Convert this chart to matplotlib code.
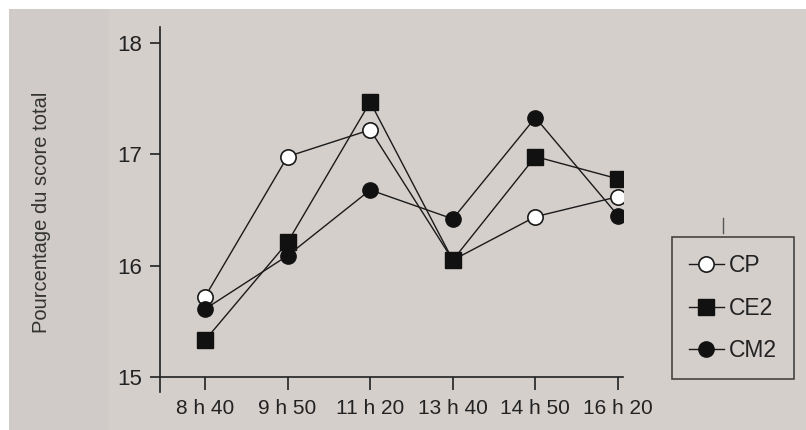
import matplotlib
matplotlib.use("Agg")
import matplotlib.pyplot as plt
from matplotlib.lines import Line2D
from matplotlib.patches import Rectangle

times = ["8 h 40", "9 h 50", "11 h 20", "13 h 40", "14 h 50", "16 h 20"]
cp = [15.72, 16.98, 17.22, 16.05, 16.44, 16.62]
ce2 = [15.33, 16.21, 17.47, 16.05, 16.98, 16.78]
cm2 = [15.61, 16.09, 16.68, 16.42, 17.33, 16.45]
yticks = [15, 16, 17, 18]

plt.rcParams['font.family'] = ['Liberation Sans', 'DejaVu Sans']

W, H = 806, 430
fig = plt.figure(figsize=(W / 100, H / 100), dpi=100)
bg = '#d5cfcc'
fig.patch.set_facecolor('white')
fig.patches.append(Rectangle((9 / W, 0), 1 - 9 / W, 1 - 9 / H, transform=fig.transFigure,
                             facecolor=bg, edgecolor='none', zorder=-10))
fig.patches.append(Rectangle((9 / W, 0), 100 / W, 1 - 9 / H, transform=fig.transFigure,
                             facecolor='#d0cbc8', edgecolor='none', zorder=-9))

left, right = 160 / W, 623 / W
bottom_px, top_px = 392, 27
ax = fig.add_axes([left, 1 - bottom_px / H, right - left, (bottom_px - top_px) / H])
ax.set_facecolor('none')

x = list(range(len(times)))
lw = 1.0
ax.plot(x, cp, '-', color='#1a1a1a', lw=lw, marker='o', ms=11, mfc='white', mec='#1a1a1a', mew=1.2, zorder=3)
ax.plot(x, ce2, '-', color='#1a1a1a', lw=lw, marker='s', ms=11, mfc='#111111', mec='#111111', zorder=3)
ax.plot(x, cm2, '-', color='#1a1a1a', lw=lw, marker='o', ms=11, mfc='#111111', mec='#111111', zorder=3)

ppu = (377 - 43) / 3.0
ymin = 15 - (bottom_px - 377) / ppu
ymax = 18 + (43 - top_px) / ppu
ax.set_ylim(ymin, ymax)
sp = 82.6
ax.set_xlim(-(205 - 160) / sp, (623 - 205) / sp)

for s in ['top', 'right']:
    ax.spines[s].set_visible(False)
ax.spines['bottom'].set_position(('data', 15))
for s in ['left', 'bottom']:
    ax.spines[s].set_linewidth(1.2)
    ax.spines[s].set_color('#222222')

ax.set_xticks(x)
ax.set_xticklabels(times)
ax.set_yticks(yticks)
ax.set_yticklabels([str(v) for v in yticks])
ax.tick_params(axis='x', direction='out', length=9.5, width=1.2, pad=6, labelsize=15, colors='#222222')
ax.tick_params(axis='y', direction='out', length=7, width=1.2, pad=6, labelsize=16, colors='#222222')

fig.text(42 / W, 1 - 212 / H, "Pourcentage du score total", rotation=90, ha='center', va='center',
         fontsize=14.5, color='#333333')

handles = [
    Line2D([], [], color='#1a1a1a', lw=lw, marker='o', ms=11, mfc='white', mec='#1a1a1a', mew=1.2),
    Line2D([], [], color='#1a1a1a', lw=lw, marker='s', ms=11, mfc='#111111', mec='#111111'),
    Line2D([], [], color='#1a1a1a', lw=lw, marker='o', ms=11, mfc='#111111', mec='#111111'),
]
leg = fig.legend(handles, ["CP", "CE2", "CM2"], loc='upper left',
                 bbox_to_anchor=(672 / W, 1 - 237 / H), fontsize=16.5, frameon=True,
                 fancybox=False, edgecolor='#222222', facecolor=bg, handlelength=1.5,
                 handletextpad=0.25, labelspacing=0.85, borderpad=0.75, borderaxespad=0)
leg.get_frame().set_linewidth(1.2)
for t in leg.get_texts():
    t.set_color('#222222')

fig.add_artist(Line2D([723 / W, 723 / W], [1 - 218 / H, 1 - 233 / H], transform=fig.transFigure,
                      color='#555555', lw=1))

fig.savefig("out.png", dpi=100, facecolor=fig.get_facecolor())
